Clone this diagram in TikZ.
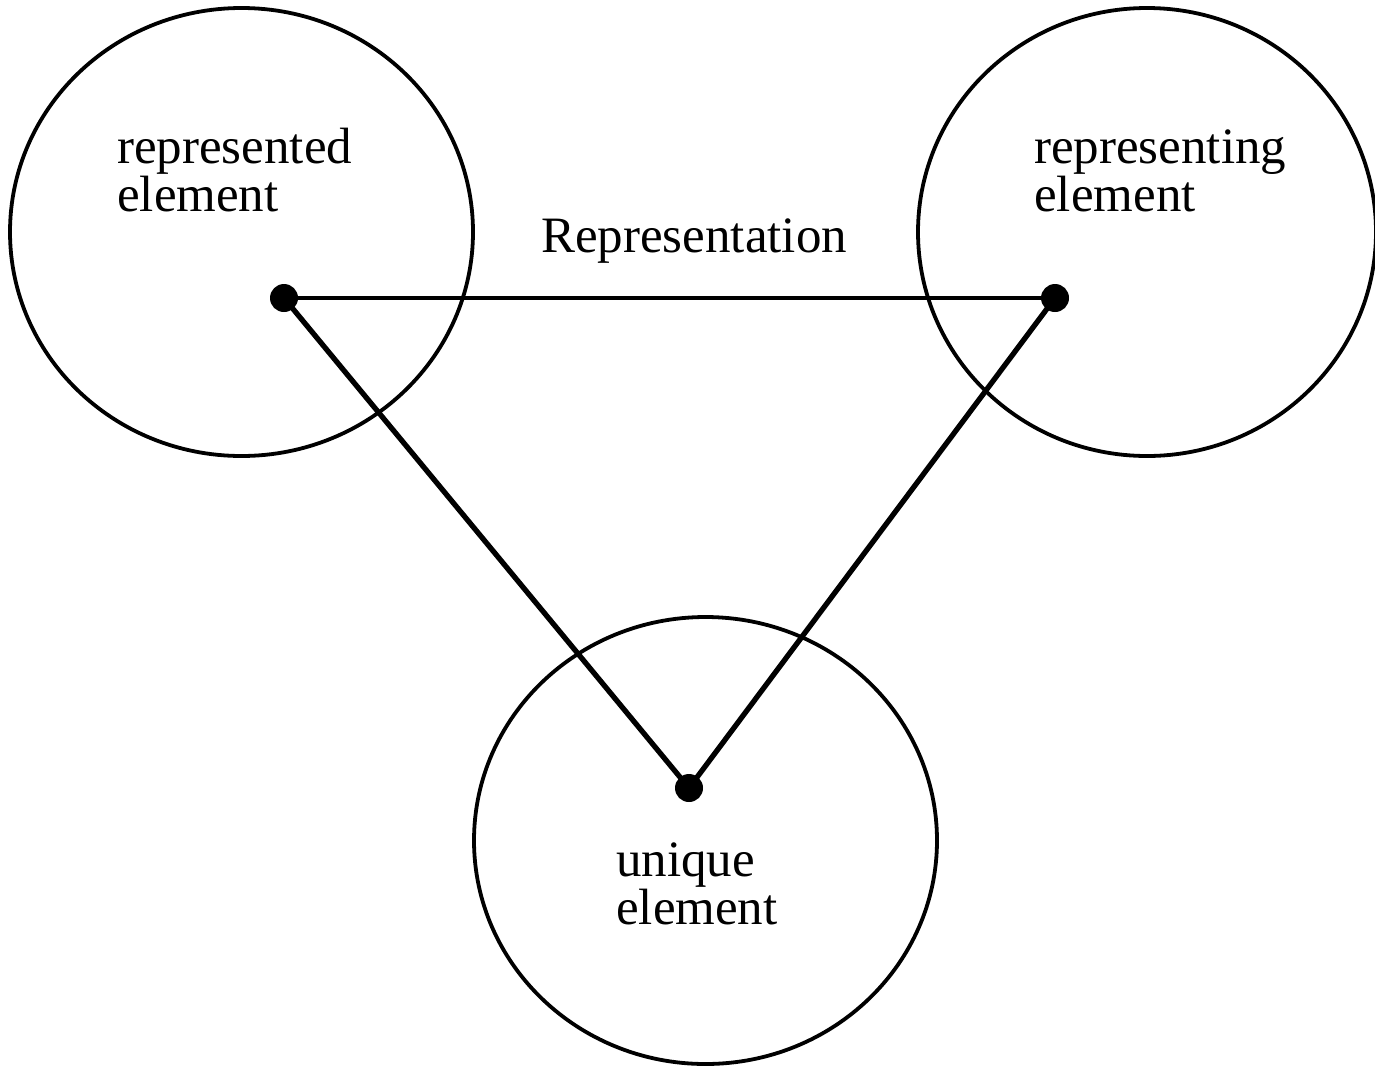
\documentclass[tikz,border=0pt]{standalone}
\usepackage{fontspec}
\newfontfamily\lblfont{Liberation Serif}
\usetikzlibrary{shapes.geometric}
\tikzset{
  region/.style={draw, ellipse, line width=3.8pt, inner sep=0pt},
  dot/.style={circle, fill=black, inner sep=0pt, minimum size=28pt},
  label/.style={font=\lblfont\fontsize{51}{48}\selectfont, align=left, inner sep=0pt, anchor=base west},
  link/.style={line width=4.3pt},
  tie/.style={line width=5.3pt}
}
\begin{document}
\begin{tikzpicture}[x=1pt,y=-1pt]
\useasboundingbox (0,0) rectangle (1375,1066);
\node[region, minimum width=463pt, minimum height=448pt] (left) at (241.5,232) {};
\node[region, minimum width=458pt, minimum height=448pt] (right) at (1147,232) {};
\node[region, minimum width=463pt, minimum height=447pt] (bottom) at (705.5,840.5) {};
\node[label] (ltext) at (117,211) {represented\\element};
\node[label] (rtext) at (1034,211) {representing\\element};
\node[label] (btext) at (616,924) {unique\\element};
\node[label] (rep) at (541,252) {Representation};
\coordinate (p1) at (284,298);
\coordinate (p2) at (1055,298);
\coordinate (p3) at (689,788);
\draw[link] (p1) -- (p2);
\draw[tie] (p1) -- (p3) -- (p2);
\node[dot] (d1) at (p1) {};
\node[dot] (d2) at (p2) {};
\node[dot] (d3) at (p3) {};
\end{tikzpicture}
\end{document}
